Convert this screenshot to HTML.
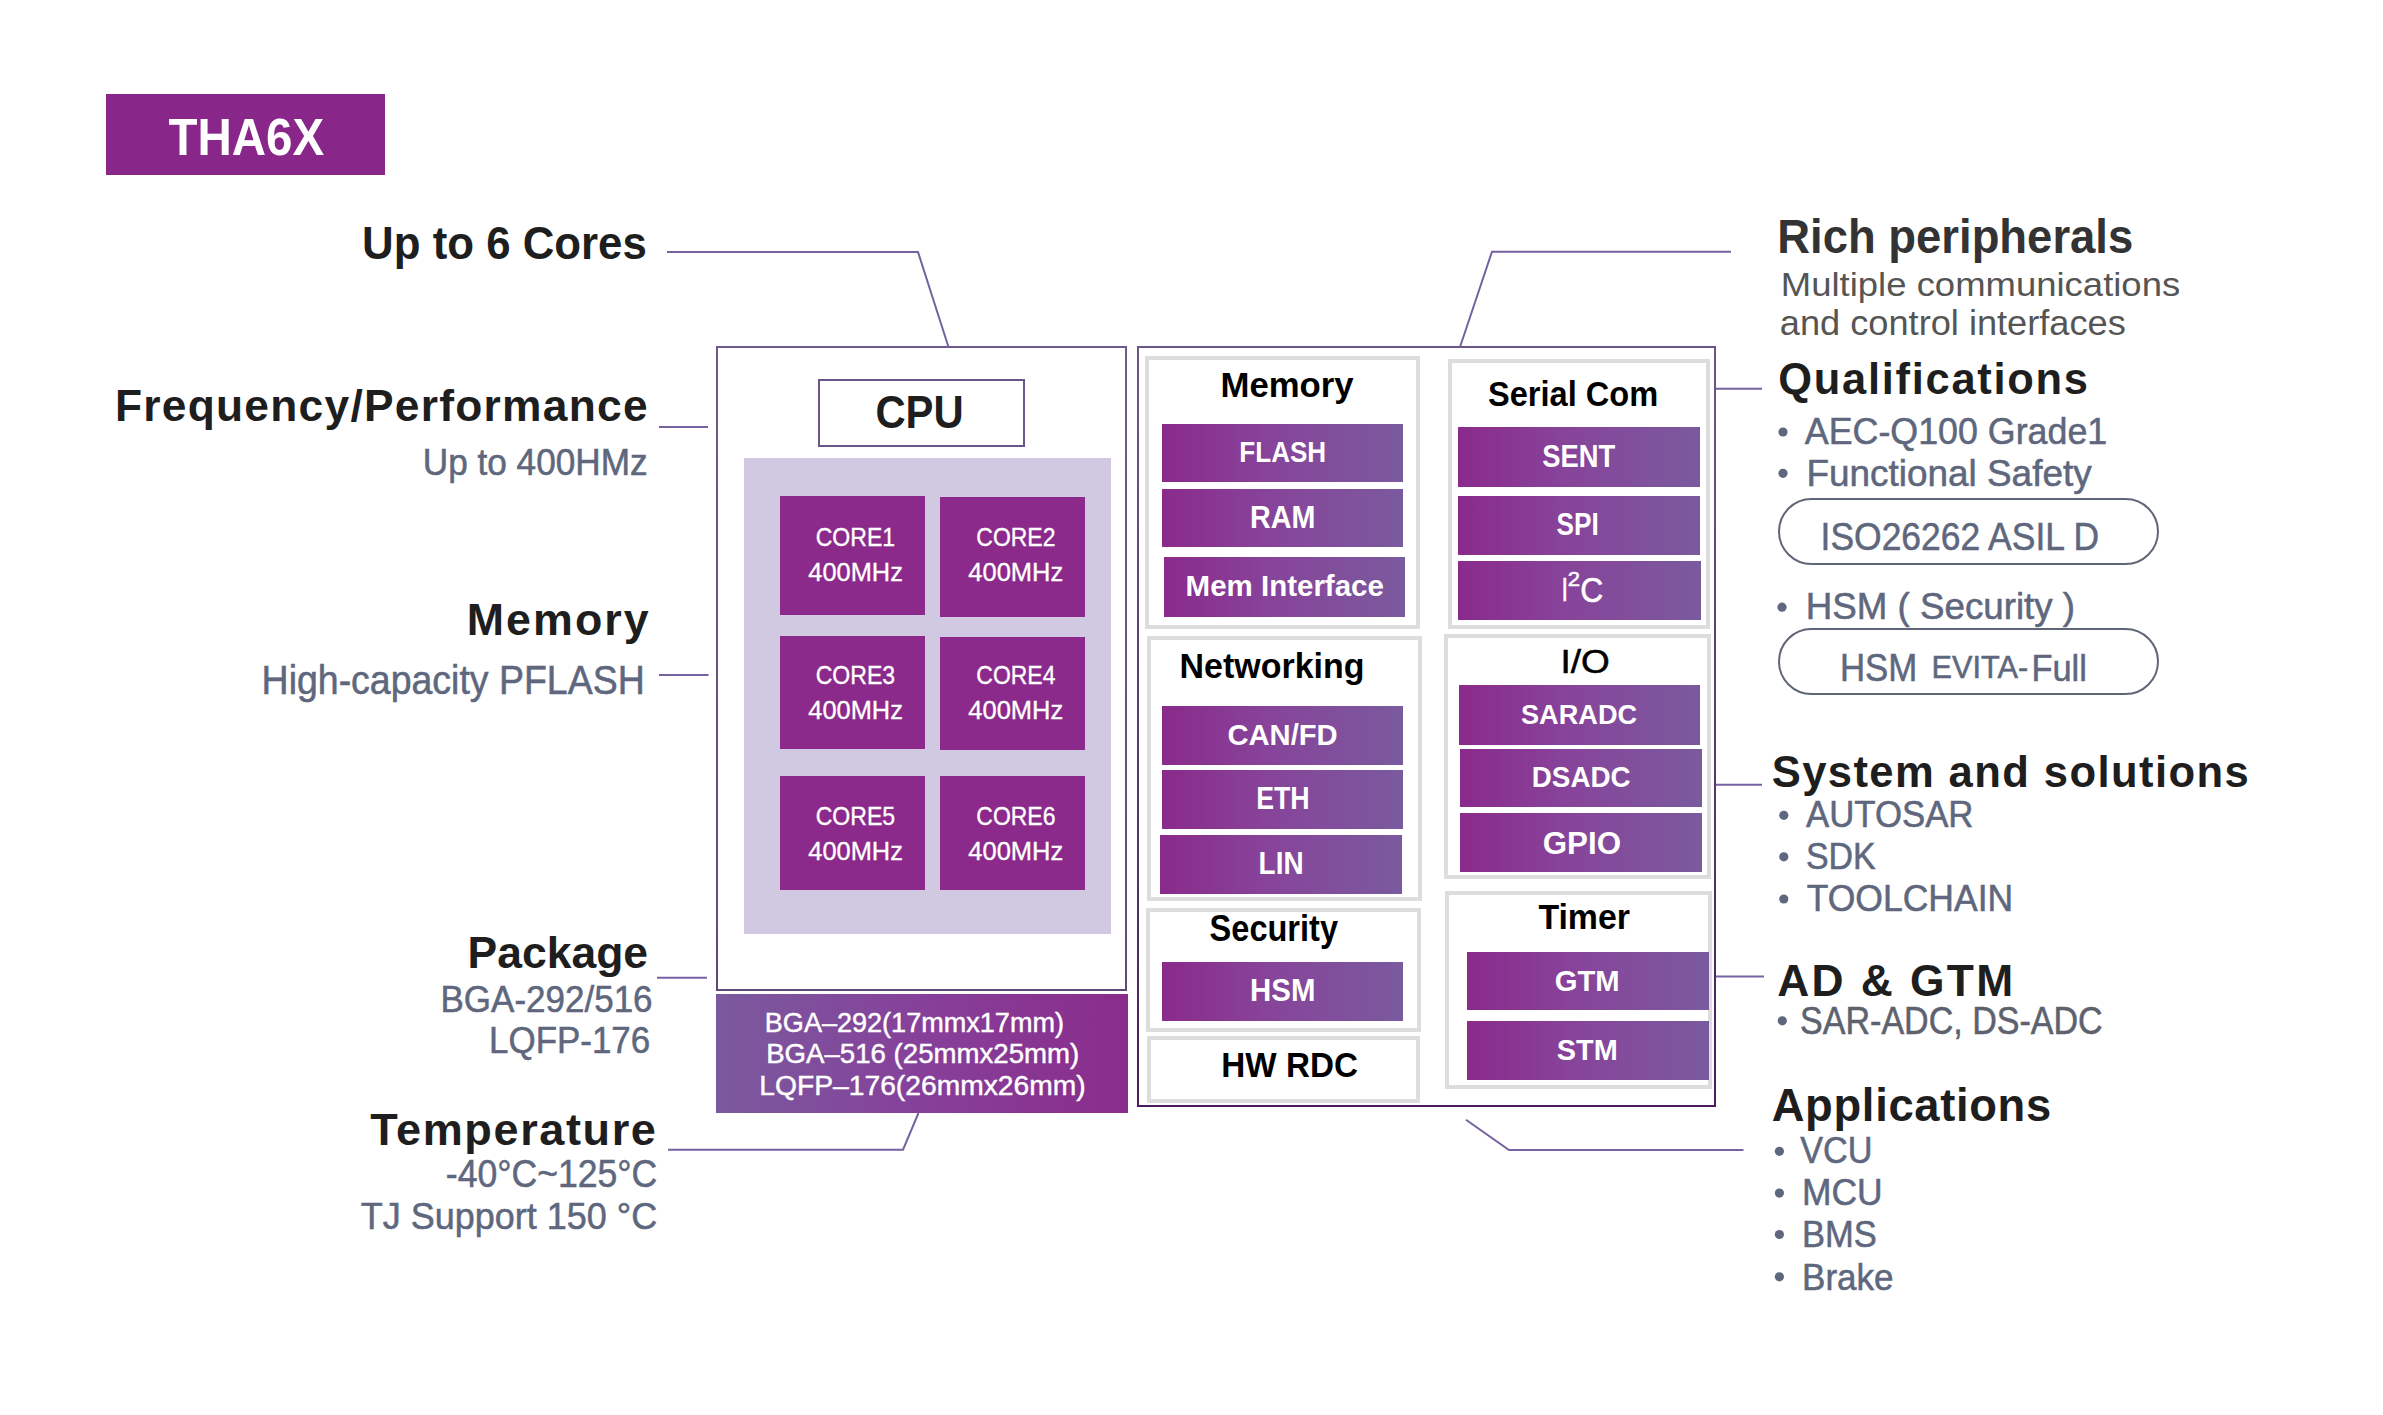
<!DOCTYPE html>
<html><head><meta charset="utf-8"><title>THA6X</title>
<style>
html,body{margin:0;padding:0;background:#fff;overflow:hidden;}
#page{position:relative;width:2383px;height:1415px;overflow:hidden;background:#fff;font-family:"Liberation Sans",sans-serif;}
.r{position:absolute;box-sizing:border-box;}
.pb{border:2px solid #7562a0;}
.gb{border:4px solid #dddddd;background:#fff;}
.bar{background:linear-gradient(90deg,#8a2a8c 0%,#87449a 45%,#7a5a9e 100%);}
.core{background:#8b2a8b;}
svg{position:absolute;left:0;top:0;}
</style></head><body><div id="page">

<div class="r " style="left:106px;top:94px;width:279px;height:81px;background:#88268a;"></div>
<div class="r pb" style="left:716px;top:346px;width:411px;height:645px;border-image:linear-gradient(180deg,#6e5a8a,#5e4a78) 1;"></div>
<div class="r pb" style="left:818px;top:379px;width:207px;height:68px;border-color:#6a5688;"></div>
<div class="r " style="left:744px;top:458px;width:367px;height:476px;background:#d1c9e1;"></div>
<div class="r core" style="left:780px;top:496px;width:145px;height:119px;"></div>
<div class="r core" style="left:940px;top:497px;width:145px;height:120px;"></div>
<div class="r core" style="left:780px;top:636px;width:145px;height:113px;"></div>
<div class="r core" style="left:940px;top:637px;width:145px;height:113px;"></div>
<div class="r core" style="left:780px;top:776px;width:145px;height:114px;"></div>
<div class="r core" style="left:940px;top:776px;width:145px;height:114px;"></div>
<div class="r " style="left:716px;top:994px;width:412px;height:119px;background:linear-gradient(90deg,#7a5a9e 0%,#86409a 50%,#8a2c8b 100%);"></div>
<div class="r pb" style="left:1137px;top:346px;width:579px;height:761px;border-image:linear-gradient(180deg,#6b5688,#4b1c60) 1;"></div>
<div class="r gb" style="left:1145px;top:356px;width:275px;height:273px;"></div>
<div class="r gb" style="left:1147px;top:636px;width:275px;height:265px;"></div>
<div class="r gb" style="left:1146px;top:908px;width:275px;height:124px;"></div>
<div class="r gb" style="left:1147px;top:1036px;width:273px;height:67px;"></div>
<div class="r gb" style="left:1448px;top:359px;width:262px;height:270px;"></div>
<div class="r gb" style="left:1444px;top:634px;width:267px;height:245px;"></div>
<div class="r gb" style="left:1445px;top:891px;width:267px;height:198px;"></div>
<div class="r bar" style="left:1162px;top:424px;width:241px;height:58px;"></div>
<div class="r bar" style="left:1162px;top:489px;width:241px;height:58px;"></div>
<div class="r bar" style="left:1164px;top:557px;width:241px;height:60px;"></div>
<div class="r bar" style="left:1162px;top:706px;width:241px;height:59px;"></div>
<div class="r bar" style="left:1162px;top:770px;width:241px;height:59px;"></div>
<div class="r bar" style="left:1160px;top:835px;width:242px;height:59px;"></div>
<div class="r bar" style="left:1162px;top:962px;width:241px;height:59px;"></div>
<div class="r bar" style="left:1458px;top:427px;width:242px;height:60px;"></div>
<div class="r bar" style="left:1458px;top:496px;width:242px;height:59px;"></div>
<div class="r bar" style="left:1458px;top:561px;width:243px;height:59px;"></div>
<div class="r bar" style="left:1459px;top:685px;width:241px;height:60px;"></div>
<div class="r bar" style="left:1460px;top:749px;width:242px;height:58px;"></div>
<div class="r bar" style="left:1460px;top:813px;width:242px;height:59px;"></div>
<div class="r bar" style="left:1467px;top:952px;width:242px;height:58px;"></div>
<div class="r bar" style="left:1467px;top:1021px;width:242px;height:59px;"></div>
<div class="r " style="left:1778px;top:498px;width:381px;height:67px;border:2px solid #5f6675;border-radius:34px;"></div>
<div class="r " style="left:1778px;top:628px;width:381px;height:67px;border:2px solid #5f6675;border-radius:34px;"></div>
<svg width="2383" height="1415" viewBox="0 0 2383 1415">
<polyline fill="none" stroke="#7562a0" stroke-width="2" points="667,252 918,252 948.5,347"/>
<polyline fill="none" stroke="#7562a0" stroke-width="2" points="659,427 708,427"/>
<polyline fill="none" stroke="#7562a0" stroke-width="2" points="659,675 708.5,675"/>
<polyline fill="none" stroke="#7562a0" stroke-width="2" points="657,977.7 707,977.7"/>
<polyline fill="none" stroke="#7562a0" stroke-width="2" points="668,1149.7 903,1149.7 918.5,1113"/>
<polyline fill="none" stroke="#7562a0" stroke-width="2" points="1460,347 1492,251.7 1731,251.7"/>
<polyline fill="none" stroke="#7562a0" stroke-width="2" points="1716,388.7 1762,388.7"/>
<polyline fill="none" stroke="#7562a0" stroke-width="2" points="1716,784.7 1762,784.7"/>
<polyline fill="none" stroke="#7562a0" stroke-width="2" points="1716,976.5 1764,976.5"/>
<polyline fill="none" stroke="#7562a0" stroke-width="2" points="1466,1119.8 1509,1150 1743.5,1150"/>
<circle cx="1783" cy="432" r="4.6" fill="#5e677d"/>
<circle cx="1783" cy="473.3" r="4.6" fill="#5e677d"/>
<circle cx="1782" cy="607.2" r="4.6" fill="#5e677d"/>
<circle cx="1783.8" cy="815.3" r="4.6" fill="#5e677d"/>
<circle cx="1783.8" cy="856.8" r="4.6" fill="#5e677d"/>
<circle cx="1783.8" cy="899" r="4.6" fill="#5e677d"/>
<circle cx="1782.3" cy="1020.8" r="4.6" fill="#5e677d"/>
<circle cx="1779.4" cy="1151.3" r="4.6" fill="#5e677d"/>
<circle cx="1779.4" cy="1193.1" r="4.6" fill="#5e677d"/>
<circle cx="1779.4" cy="1234.5" r="4.6" fill="#5e677d"/>
<circle cx="1779.4" cy="1276.8" r="4.6" fill="#5e677d"/>
<text x="168.40" y="154.50" font-family="Liberation Sans" font-size="52.33" font-weight="bold" fill="#ffffff" textLength="155.72" lengthAdjust="spacingAndGlyphs">THA6X</text>
<text x="362.10" y="259.40" font-family="Liberation Sans" font-size="45.78" font-weight="bold" fill="#1e1e1e" textLength="284.70" lengthAdjust="spacingAndGlyphs">Up to 6 Cores</text>
<text x="114.90" y="420.70" font-family="Liberation Sans" font-size="44.33" font-weight="bold" fill="#1e1e1e" textLength="532.69" lengthAdjust="spacing">Frequency/Performance</text>
<text x="422.80" y="475.40" font-family="Liberation Sans" font-size="36.05" font-weight="normal" fill="#5e677d" stroke="#5e677d" stroke-width="0.55" textLength="224.79" lengthAdjust="spacingAndGlyphs">Up to 400HMz</text>
<text x="466.80" y="635.00" font-family="Liberation Sans" font-size="44.77" font-weight="bold" fill="#1e1e1e" textLength="181.82" lengthAdjust="spacing">Memory</text>
<text x="261.60" y="693.50" font-family="Liberation Sans" font-size="39.97" font-weight="normal" fill="#5e677d" stroke="#5e677d" stroke-width="0.55" textLength="383.11" lengthAdjust="spacingAndGlyphs">High-capacity PFLASH</text>
<text x="467.60" y="967.80" font-family="Liberation Sans" font-size="45.06" font-weight="bold" fill="#1e1e1e" textLength="180.48" lengthAdjust="spacingAndGlyphs">Package</text>
<text x="440.50" y="1012.20" font-family="Liberation Sans" font-size="37.06" font-weight="normal" fill="#5e677d" stroke="#5e677d" stroke-width="0.55" textLength="212.09" lengthAdjust="spacingAndGlyphs">BGA-292/516</text>
<text x="489.10" y="1053.20" font-family="Liberation Sans" font-size="37.79" font-weight="normal" fill="#5e677d" stroke="#5e677d" stroke-width="0.55" textLength="161.11" lengthAdjust="spacingAndGlyphs">LQFP-176</text>
<text x="370.20" y="1144.90" font-family="Liberation Sans" font-size="45.06" font-weight="bold" fill="#1e1e1e" textLength="285.72" lengthAdjust="spacing">Temperature</text>
<text x="445.80" y="1187.40" font-family="Liberation Sans" font-size="39.24" font-weight="normal" fill="#5e677d" stroke="#5e677d" stroke-width="0.55" textLength="211.40" lengthAdjust="spacingAndGlyphs">-40°C~125°C</text>
<text x="360.80" y="1229.20" font-family="Liberation Sans" font-size="37.79" font-weight="normal" fill="#5e677d" stroke="#5e677d" stroke-width="0.55" textLength="296.41" lengthAdjust="spacingAndGlyphs">TJ Support 150 °C</text>
<text x="875.40" y="428.20" font-family="Liberation Sans" font-size="46.08" font-weight="bold" fill="#1e1e1e" textLength="88.31" lengthAdjust="spacingAndGlyphs">CPU</text>
<text x="815.70" y="545.70" font-family="Liberation Sans" font-size="26.16" font-weight="normal" fill="#ffffff" stroke="#ffffff" stroke-width="0.35" textLength="79.41" lengthAdjust="spacingAndGlyphs">CORE1</text>
<text x="808.30" y="580.70" font-family="Liberation Sans" font-size="26.16" font-weight="normal" fill="#ffffff" stroke="#ffffff" stroke-width="0.35" textLength="94.59" lengthAdjust="spacingAndGlyphs">400MHz</text>
<text x="976.30" y="545.70" font-family="Liberation Sans" font-size="26.16" font-weight="normal" fill="#ffffff" stroke="#ffffff" stroke-width="0.35" textLength="79.11" lengthAdjust="spacingAndGlyphs">CORE2</text>
<text x="968.30" y="580.70" font-family="Liberation Sans" font-size="26.16" font-weight="normal" fill="#ffffff" stroke="#ffffff" stroke-width="0.35" textLength="94.89" lengthAdjust="spacingAndGlyphs">400MHz</text>
<text x="815.70" y="683.80" font-family="Liberation Sans" font-size="26.16" font-weight="normal" fill="#ffffff" stroke="#ffffff" stroke-width="0.35" textLength="79.41" lengthAdjust="spacingAndGlyphs">CORE3</text>
<text x="808.30" y="718.80" font-family="Liberation Sans" font-size="26.16" font-weight="normal" fill="#ffffff" stroke="#ffffff" stroke-width="0.35" textLength="94.59" lengthAdjust="spacingAndGlyphs">400MHz</text>
<text x="976.30" y="683.80" font-family="Liberation Sans" font-size="26.16" font-weight="normal" fill="#ffffff" stroke="#ffffff" stroke-width="0.35" textLength="79.11" lengthAdjust="spacingAndGlyphs">CORE4</text>
<text x="968.30" y="718.80" font-family="Liberation Sans" font-size="26.16" font-weight="normal" fill="#ffffff" stroke="#ffffff" stroke-width="0.35" textLength="94.89" lengthAdjust="spacingAndGlyphs">400MHz</text>
<text x="815.70" y="824.80" font-family="Liberation Sans" font-size="26.16" font-weight="normal" fill="#ffffff" stroke="#ffffff" stroke-width="0.35" textLength="79.41" lengthAdjust="spacingAndGlyphs">CORE5</text>
<text x="808.30" y="859.70" font-family="Liberation Sans" font-size="26.16" font-weight="normal" fill="#ffffff" stroke="#ffffff" stroke-width="0.35" textLength="94.59" lengthAdjust="spacingAndGlyphs">400MHz</text>
<text x="976.30" y="824.80" font-family="Liberation Sans" font-size="26.16" font-weight="normal" fill="#ffffff" stroke="#ffffff" stroke-width="0.35" textLength="79.11" lengthAdjust="spacingAndGlyphs">CORE6</text>
<text x="968.30" y="859.70" font-family="Liberation Sans" font-size="26.16" font-weight="normal" fill="#ffffff" stroke="#ffffff" stroke-width="0.35" textLength="94.89" lengthAdjust="spacingAndGlyphs">400MHz</text>
<text x="764.80" y="1031.60" font-family="Liberation Sans" font-size="26.89" font-weight="normal" fill="#ffffff" stroke="#ffffff" stroke-width="0.45" textLength="299.20" lengthAdjust="spacingAndGlyphs">BGA–292(17mmx17mm)</text>
<text x="766.20" y="1063.00" font-family="Liberation Sans" font-size="26.89" font-weight="normal" fill="#ffffff" stroke="#ffffff" stroke-width="0.45" textLength="313.00" lengthAdjust="spacingAndGlyphs">BGA–516 (25mmx25mm)</text>
<text x="759.30" y="1095.40" font-family="Liberation Sans" font-size="27.62" font-weight="normal" fill="#ffffff" stroke="#ffffff" stroke-width="0.45" textLength="326.40" lengthAdjust="spacingAndGlyphs">LQFP–176(26mmx26mm)</text>
<text x="1220.50" y="396.80" font-family="Liberation Sans" font-size="35.32" font-weight="bold" fill="#000000" textLength="133.12" lengthAdjust="spacingAndGlyphs">Memory</text>
<text x="1239.30" y="462.20" font-family="Liberation Sans" font-size="30.23" font-weight="bold" fill="#ffffff" textLength="86.90" lengthAdjust="spacingAndGlyphs">FLASH</text>
<text x="1250.10" y="528.00" font-family="Liberation Sans" font-size="31.25" font-weight="bold" fill="#ffffff" textLength="65.31" lengthAdjust="spacingAndGlyphs">RAM</text>
<text x="1185.60" y="596.20" font-family="Liberation Sans" font-size="30.09" font-weight="bold" fill="#ffffff" textLength="198.29" lengthAdjust="spacingAndGlyphs">Mem Interface</text>
<text x="1179.60" y="678.00" font-family="Liberation Sans" font-size="35.32" font-weight="bold" fill="#000000" textLength="184.89" lengthAdjust="spacingAndGlyphs">Networking</text>
<text x="1227.40" y="745.00" font-family="Liberation Sans" font-size="30.09" font-weight="bold" fill="#ffffff" textLength="110.31" lengthAdjust="spacingAndGlyphs">CAN/FD</text>
<text x="1256.20" y="808.70" font-family="Liberation Sans" font-size="30.96" font-weight="bold" fill="#ffffff" textLength="53.50" lengthAdjust="spacingAndGlyphs">ETH</text>
<text x="1258.60" y="873.80" font-family="Liberation Sans" font-size="30.96" font-weight="bold" fill="#ffffff" textLength="45.00" lengthAdjust="spacingAndGlyphs">LIN</text>
<text x="1209.60" y="941.20" font-family="Liberation Sans" font-size="36.19" font-weight="bold" fill="#000000" textLength="128.41" lengthAdjust="spacingAndGlyphs">Security</text>
<text x="1250.10" y="1001.00" font-family="Liberation Sans" font-size="30.52" font-weight="bold" fill="#ffffff" textLength="65.31" lengthAdjust="spacingAndGlyphs">HSM</text>
<text x="1221.30" y="1077.00" font-family="Liberation Sans" font-size="35.76" font-weight="bold" fill="#000000" textLength="136.61" lengthAdjust="spacingAndGlyphs">HW RDC</text>
<text x="1488.00" y="406.00" font-family="Liberation Sans" font-size="35.76" font-weight="bold" fill="#000000" textLength="170.20" lengthAdjust="spacingAndGlyphs">Serial Com</text>
<text x="1561.40" y="601.20" font-family="Liberation Sans" font-size="33.72" font-weight="normal" fill="#ffffff" stroke="#ffffff" stroke-width="0.55" textLength="6.50" lengthAdjust="spacingAndGlyphs">I</text>
<text x="1567.80" y="585.70" font-family="Liberation Sans" font-size="20.78" font-weight="normal" fill="#ffffff" stroke="#ffffff" stroke-width="0.55" textLength="12.30" lengthAdjust="spacingAndGlyphs">2</text>
<text x="1580.30" y="601.50" font-family="Liberation Sans" font-size="34.59" font-weight="normal" fill="#ffffff" stroke="#ffffff" stroke-width="0.55" textLength="23.01" lengthAdjust="spacingAndGlyphs">C</text>
<text x="1542.20" y="466.80" font-family="Liberation Sans" font-size="32.12" font-weight="bold" fill="#ffffff" textLength="73.00" lengthAdjust="spacingAndGlyphs">SENT</text>
<text x="1556.60" y="535.40" font-family="Liberation Sans" font-size="30.67" font-weight="bold" fill="#ffffff" textLength="42.20" lengthAdjust="spacingAndGlyphs">SPI</text>
<text x="1560.40" y="673.00" font-family="Liberation Sans" font-size="33.87" font-weight="normal" fill="#000000" stroke="#000000" stroke-width="0.55" textLength="49.22" lengthAdjust="spacingAndGlyphs">I/O</text>
<text x="1521.00" y="724.40" font-family="Liberation Sans" font-size="28.49" font-weight="bold" fill="#ffffff" textLength="116.20" lengthAdjust="spacingAndGlyphs">SARADC</text>
<text x="1531.80" y="787.40" font-family="Liberation Sans" font-size="29.07" font-weight="bold" fill="#ffffff" textLength="98.79" lengthAdjust="spacingAndGlyphs">DSADC</text>
<text x="1542.70" y="854.20" font-family="Liberation Sans" font-size="30.52" font-weight="bold" fill="#ffffff" textLength="78.32" lengthAdjust="spacingAndGlyphs">GPIO</text>
<text x="1538.40" y="928.80" font-family="Liberation Sans" font-size="35.76" font-weight="bold" fill="#000000" textLength="91.60" lengthAdjust="spacingAndGlyphs">Timer</text>
<text x="1554.80" y="990.70" font-family="Liberation Sans" font-size="30.38" font-weight="bold" fill="#ffffff" textLength="64.89" lengthAdjust="spacingAndGlyphs">GTM</text>
<text x="1556.80" y="1060.30" font-family="Liberation Sans" font-size="30.38" font-weight="bold" fill="#ffffff" textLength="60.90" lengthAdjust="spacingAndGlyphs">STM</text>
<text x="1777.30" y="252.60" font-family="Liberation Sans" font-size="48.26" font-weight="bold" fill="#333333" textLength="355.90" lengthAdjust="spacingAndGlyphs">Rich peripherals</text>
<text x="1780.80" y="296.00" font-family="Liberation Sans" font-size="33.58" font-weight="normal" fill="#555555" textLength="399.39" lengthAdjust="spacingAndGlyphs">Multiple communications</text>
<text x="1779.80" y="334.80" font-family="Liberation Sans" font-size="35.59" font-weight="normal" fill="#555555" textLength="346.00" lengthAdjust="spacingAndGlyphs">and control interfaces</text>
<text x="1778.20" y="394.30" font-family="Liberation Sans" font-size="43.46" font-weight="bold" fill="#1e1e1e" textLength="309.81" lengthAdjust="spacing">Qualifications</text>
<text x="1804.80" y="444.20" font-family="Liberation Sans" font-size="37.65" font-weight="normal" fill="#5e677d" stroke="#5e677d" stroke-width="0.55" textLength="302.39" lengthAdjust="spacingAndGlyphs">AEC-Q100 Grade1</text>
<text x="1806.40" y="485.70" font-family="Liberation Sans" font-size="37.65" font-weight="normal" fill="#5e677d" stroke="#5e677d" stroke-width="0.55" textLength="285.29" lengthAdjust="spacingAndGlyphs">Functional Safety</text>
<text x="1820.60" y="550.00" font-family="Liberation Sans" font-size="38.95" font-weight="normal" fill="#5e677d" stroke="#5e677d" stroke-width="0.55" textLength="278.50" lengthAdjust="spacingAndGlyphs">ISO26262 ASIL D</text>
<text x="1839.90" y="681.20" font-family="Liberation Sans" font-size="38.66" font-weight="normal" fill="#5e677d" stroke="#5e677d" stroke-width="0.55" textLength="77.41" lengthAdjust="spacingAndGlyphs">HSM</text>
<text x="1931.60" y="677.80" font-family="Liberation Sans" font-size="31.54" font-weight="normal" fill="#5e677d" stroke="#5e677d" stroke-width="0.55" textLength="96.61" lengthAdjust="spacingAndGlyphs">EVITA-</text>
<text x="2031.50" y="681.20" font-family="Liberation Sans" font-size="37.79" font-weight="normal" fill="#5e677d" stroke="#5e677d" stroke-width="0.55" textLength="55.41" lengthAdjust="spacingAndGlyphs">Full</text>
<text x="1805.80" y="619.20" font-family="Liberation Sans" font-size="37.50" font-weight="normal" fill="#5e677d" stroke="#5e677d" stroke-width="0.55" textLength="269.30" lengthAdjust="spacingAndGlyphs">HSM ( Security )</text>
<text x="1771.70" y="787.00" font-family="Liberation Sans" font-size="43.60" font-weight="bold" fill="#1e1e1e" textLength="476.98" lengthAdjust="spacing">System and solutions</text>
<text x="1806.00" y="827.30" font-family="Liberation Sans" font-size="37.35" font-weight="normal" fill="#5e677d" stroke="#5e677d" stroke-width="0.55" textLength="167.50" lengthAdjust="spacingAndGlyphs">AUTOSAR</text>
<text x="1806.00" y="868.80" font-family="Liberation Sans" font-size="37.21" font-weight="normal" fill="#5e677d" stroke="#5e677d" stroke-width="0.55" textLength="69.71" lengthAdjust="spacingAndGlyphs">SDK</text>
<text x="1806.70" y="910.70" font-family="Liberation Sans" font-size="37.06" font-weight="normal" fill="#5e677d" stroke="#5e677d" stroke-width="0.55" textLength="206.50" lengthAdjust="spacingAndGlyphs">TOOLCHAIN</text>
<text x="1777.20" y="995.60" font-family="Liberation Sans" font-size="44.33" font-weight="bold" fill="#1e1e1e" textLength="235.99" lengthAdjust="spacing">AD &amp; GTM</text>
<text x="1800.10" y="1033.90" font-family="Liberation Sans" font-size="38.08" font-weight="normal" fill="#5d626e" stroke="#5d626e" stroke-width="0.55" textLength="302.59" lengthAdjust="spacingAndGlyphs">SAR-ADC, DS-ADC</text>
<text x="1771.70" y="1120.70" font-family="Liberation Sans" font-size="45.35" font-weight="bold" fill="#1e1e1e" textLength="279.48" lengthAdjust="spacing">Applications</text>
<text x="1800.20" y="1163.30" font-family="Liberation Sans" font-size="37.79" font-weight="normal" fill="#5e677d" stroke="#5e677d" stroke-width="0.55" textLength="72.21" lengthAdjust="spacingAndGlyphs">VCU</text>
<text x="1802.00" y="1205.20" font-family="Liberation Sans" font-size="37.35" font-weight="normal" fill="#5e677d" stroke="#5e677d" stroke-width="0.55" textLength="80.61" lengthAdjust="spacingAndGlyphs">MCU</text>
<text x="1802.00" y="1247.00" font-family="Liberation Sans" font-size="37.79" font-weight="normal" fill="#5e677d" stroke="#5e677d" stroke-width="0.55" textLength="74.80" lengthAdjust="spacingAndGlyphs">BMS</text>
<text x="1802.00" y="1289.60" font-family="Liberation Sans" font-size="36.34" font-weight="normal" fill="#5e677d" stroke="#5e677d" stroke-width="0.55" textLength="91.61" lengthAdjust="spacingAndGlyphs">Brake</text>
</svg>
</div></body></html>
